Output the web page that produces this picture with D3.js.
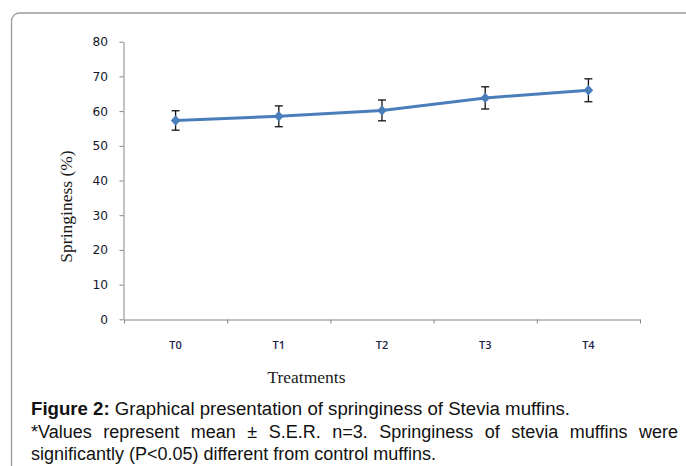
<!DOCTYPE html>
<html>
<head>
<meta charset="utf-8">
<script src="https://cdn.jsdelivr.net/npm/d3@7"></script>
<style>
  body { margin: 0; background: #fff; }
  svg { display: block; }
</style>
</head>
<body>
<svg id="chart" width="686" height="466"></svg>
<script>
var treatments = ["T0", "T1", "T2", "T3", "T4"];
var springiness = [57.3, 58.5, 60.2, 63.8, 66.0];
var stdErr = [2.8, 3.0, 3.0, 3.2, 3.3];
var yTicks = [0, 10, 20, 30, 40, 50, 60, 70, 80];

var captionLines = [
  { bold: "Figure 2:", text: " Graphical presentation of springiness of Stevia muffins.", width: 539 },
  { bold: "", text: "*Values represent mean \u00b1 S.E.R. n=3. Springiness of stevia muffins were", width: 647 },
  { bold: "", text: "significantly (P<0.05) different from control muffins.", width: null }
];

var svg = d3.select("#chart");
var axisColor = "#868686",
    lineColor = "#4a7ebb";

// outer frame of the figure (runs off the right and bottom edge)
svg.append("rect")
  .attr("x", 11.5).attr("y", 13)
  .attr("width", 720).attr("height", 520)
  .attr("rx", 8)
  .attr("fill", "#fff")
  .attr("stroke", "#9a9a9a")
  .attr("stroke-width", 1.3);

var x = d3.scaleBand().domain(treatments).range([124, 640]).padding(0);
var xEdge = d3.scaleLinear().domain([0, treatments.length]).range([124, 640]);
var y = d3.scaleLinear().domain([0, 80]).range([319.3, 41.7]);

// y axis
var gy = svg.append("g")
  .attr("transform", "translate(123.5,0)")
  .call(d3.axisLeft(y).tickValues(yTicks).tickSize(4).tickSizeOuter(0).tickPadding(11.5));
gy.select(".domain").attr("stroke", axisColor);
gy.selectAll(".tick line").attr("stroke", axisColor);
gy.selectAll(".tick text")
  .attr("font-family", "DejaVu Sans, Verdana, sans-serif")
  .attr("font-size", 12.2)
  .attr("fill", "#15152a");

// x axis: ticks between categories, labels centred
var gx = svg.append("g")
  .attr("transform", "translate(0,319.5)")
  .call(d3.axisBottom(xEdge).ticks(treatments.length).tickSize(4).tickSizeOuter(0).tickFormat(""));
gx.select(".domain").attr("stroke", axisColor);
gx.selectAll(".tick line").attr("stroke", axisColor);

var gxl = svg.append("g")
  .attr("transform", "translate(0,319.5)")
  .call(d3.axisBottom(x).tickSize(0).tickPadding(21.5));
gxl.select(".domain").remove();
gxl.selectAll(".tick text")
  .attr("font-family", "Open Sans, DejaVu Sans, sans-serif")
  .attr("font-size", 11)
  .attr("font-weight", 600)
  .attr("fill", "#1d2448");

// axis titles
svg.append("text")
  .attr("transform", "translate(72,206.5) rotate(-90)")
  .attr("text-anchor", "middle")
  .attr("font-family", "Liberation Serif, Times New Roman, serif")
  .attr("font-size", 17.5)
  .attr("fill", "#1a1a1a")
  .text("Springiness (%)");

svg.append("text")
  .attr("x", 306.5).attr("y", 382.5)
  .attr("text-anchor", "middle")
  .attr("font-family", "Liberation Serif, Times New Roman, serif")
  .attr("font-size", 17.5)
  .attr("fill", "#1a1a1a")
  .text("Treatments");

// series
var pts = treatments.map(function(t, i) {
  return { t: t, v: springiness[i], e: stdErr[i] };
});
var cx = function(d) { return x(d.t) + x.bandwidth() / 2; };

svg.append("path")
  .datum(pts)
  .attr("fill", "none")
  .attr("stroke", lineColor)
  .attr("stroke-width", 3)
  .attr("stroke-linejoin", "round")
  .attr("d", d3.line().x(cx).y(function(d) { return y(d.v); }));

var eb = svg.append("g").attr("stroke", "#111").attr("stroke-width", 1.3);
pts.forEach(function(d) {
  var xc = cx(d);
  eb.append("line").attr("x1", xc).attr("x2", xc).attr("y1", y(d.v + d.e)).attr("y2", y(d.v - d.e));
  eb.append("line").attr("x1", xc - 4).attr("x2", xc + 4).attr("y1", y(d.v + d.e)).attr("y2", y(d.v + d.e));
  eb.append("line").attr("x1", xc - 4).attr("x2", xc + 4).attr("y1", y(d.v - d.e)).attr("y2", y(d.v - d.e));
});

svg.append("g").selectAll("path")
  .data(pts)
  .join("path")
  .attr("transform", function(d) { return "translate(" + cx(d) + "," + y(d.v) + ")"; })
  .attr("d", "M0,-5.2L4.8,0L0,5.2L-4.8,0Z")
  .attr("fill", lineColor);

// caption
captionLines.forEach(function(l, i) {
  var t = svg.append("text")
    .attr("x", 31).attr("y", 415 + i * 22.5)
    .attr("font-family", "Liberation Sans, Arial, sans-serif")
    .attr("font-size", 18)
    .attr("fill", "#111");
  if (l.bold) t.append("tspan").attr("font-weight", "bold").text(l.bold);
  t.append("tspan").text(l.text);
  if (l.width) {
    var natural = t.node().getComputedTextLength();
    var gaps = (l.bold + l.text).split(" ").length - 1;
    var extra = (l.width - natural) / gaps;
    if (i === 0) {
      t.attr("textLength", l.width).attr("lengthAdjust", "spacingAndGlyphs");
    } else {
      t.style("word-spacing", extra + "px");
    }
  }
});
</script>
</body>
</html>
